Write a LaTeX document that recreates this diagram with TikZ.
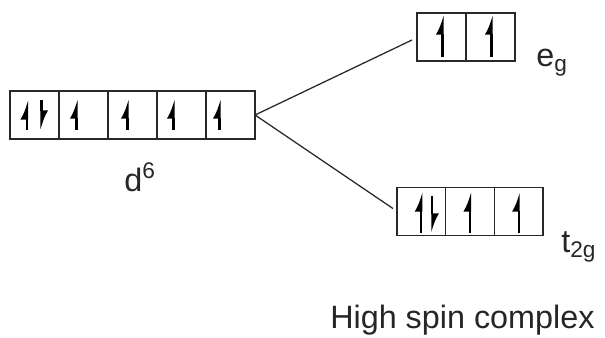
\documentclass[tikz,border=0pt]{standalone}
\usepackage{fontspec}
\setmainfont{Liberation Sans}
\usetikzlibrary{arrows.meta,positioning,calc}
\definecolor{OrbGray}{RGB}{40,40,40}
\tikzset{
  orb/.style={draw=OrbGray, line width=1pt, minimum width=1.225cm, minimum height=1.2cm, inner sep=0pt, outer sep=0pt},
  spin/.style={-{Latex[left, length=4mm, width=3.4mm]}, line width=1.5pt, draw=black},
  link/.style={line width=0.9pt, draw=OrbGray},
  lbl/.style={font=\fontsize{23pt}{28pt}\selectfont, text=black!85, inner sep=0pt, anchor=base west}
}

\begin{document}
\begin{tikzpicture}[x=0.025cm, y=-0.025cm]
\useasboundingbox (0,0) rectangle (605,337);
% d6 row
\node[orb] (d1) at (34.5,115) {};
\foreach \i [count=\j from 2] in {1,...,4}
  \node[orb, right=0pt of d\i] (d\j) {};
% split levels
\node[orb] (eg1) at (441.5,37) {};
\node[orb, right=0pt of eg1] (eg2) {};
\node[orb, minimum width=1.217cm] (t1) at (421.3,211.5) {};
\node[orb, minimum width=1.217cm, right=0pt of t1] (t2) {};
\node[orb, minimum width=1.217cm, right=0pt of t2] (t3) {};
% electrons
\draw[spin] ($(d1)+(-7.5,15)$) -- ($(d1)+(-7.5,-15)$);
\draw[spin] ($(d1)+(7,-15)$) -- ($(d1)+(7,15)$);
\foreach \c/\dx in {d2/-7, d3/-5, d4/-8, d5/-11}
  \draw[spin] ($(\c)+(\dx,15)$) -- ($(\c)+(\dx,-16)$);
\foreach \c in {eg1,eg2}
  \draw[spin] ($(\c)+(1,20)$) -- ($(\c)+(1,-22)$);
\draw[spin] ($(t1)+(0,21.5)$) -- ($(t1)+(0,-19.5)$);
\draw[spin] ($(t1)+(11,-16)$) -- ($(t1)+(11,21.5)$);
\foreach \c in {t2,t3}
  \draw[spin] ($(\c)+(0,21.5)$) -- ($(\c)+(0,-19.5)$);
% splitting lines
\draw[link] (d5.east) -- ($(eg1.west)+(-5,3)$);
\draw[link] (d5.east) -- ($(t1.west)+(-4,-3)$);
% labels
\node[lbl] (dlab) at (124,191) {d\textsuperscript{6}};
\node[lbl] (eglab) at (536,66) {e\textsubscript{g}};
\node[lbl] (tlab) at (561,252) {t\textsubscript{2g}};
\node[lbl] (caption) at (330,328) {High spin complex};
\end{tikzpicture}
\end{document}
